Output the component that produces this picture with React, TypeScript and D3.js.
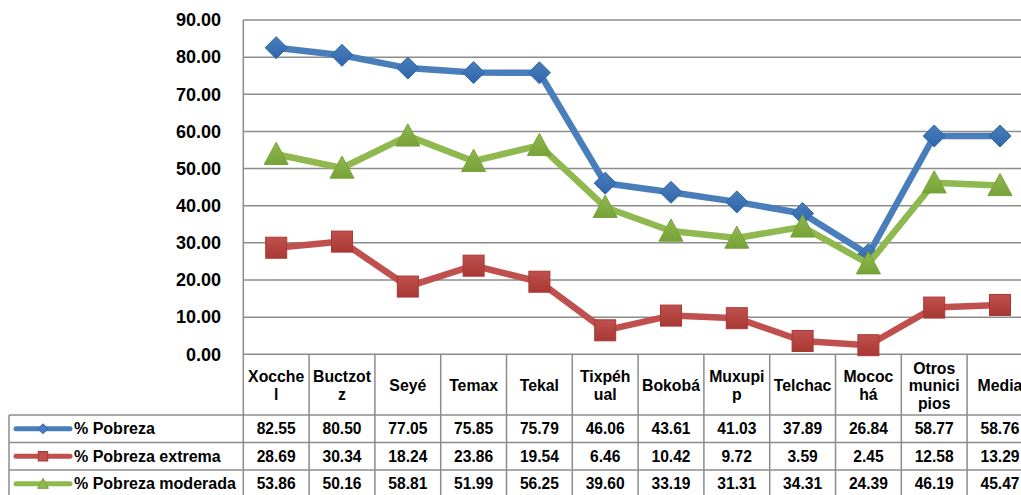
import React from "react";
import * as d3 from "d3";

const categories = ["Xocchel", "Buctzotz", "Seyé", "Temax", "Tekal", "Tixpéhual", "Bokobá", "Muxupip", "Telchac", "Mocochá", "Otros municipios", "Media"];
const headerLines = [["Xocche", "l"], ["Buctzot", "z"], ["Seyé"], ["Temax"], ["Tekal"], ["Tixpéh", "ual"], ["Bokobá"], ["Muxupi", "p"], ["Telchac"], ["Mococ", "há"], ["Otros", "munici", "pios"], ["Media"]];
const pobreza = [82.55, 80.5, 77.05, 75.85, 75.79, 46.06, 43.61, 41.03, 37.89, 26.84, 58.77, 58.76];
const extrema = [28.69, 30.34, 18.24, 23.86, 19.54, 6.46, 10.42, 9.72, 3.59, 2.45, 12.58, 13.29];
const moderada = [53.86, 50.16, 58.81, 51.99, 56.25, 39.6, 33.19, 31.31, 34.31, 24.39, 46.19, 45.47];
const yTicks = [0, 10, 20, 30, 40, 50, 60, 70, 80, 90];

const series = [
  { name: "% Pobreza", values: pobreza, color: "#4a7ebb", dark: "#2f65ab", marker: "diamond" },
  { name: "% Pobreza extrema", values: extrema, color: "#c0504d", dark: "#a83834", marker: "square" },
  { name: "% Pobreza moderada", values: moderada, color: "#8fb84e", dark: "#77a237", marker: "triangle" },
];

const W = 1021, H = 495;
const left = 243.3, step = 65.8;
const top = 20, bottom = 354.3;
const rowTop = 415, rowH = 27.5;
const font = "'Liberation Sans', Arial, sans-serif";

function Marker({ type, x, y, color, dark, s = 1 }: any) {
  if (type === "diamond") {
    const r = 11 * s;
    return <path d={`M${x},${y - r}L${x + r},${y}L${x},${y + r}L${x - r},${y}Z`} fill={color} stroke={dark} strokeWidth={1} />;
  }
  if (type === "square") {
    const r = 10.5 * s;
    return <rect x={x - r} y={y - r} width={2 * r} height={2 * r} fill={color} stroke={dark} strokeWidth={1} />;
  }
  const r = 12 * s;
  return <path d={`M${x},${y - r}L${x + r},${y + r * 0.85}L${x - r},${y + r * 0.85}Z`} fill={color} stroke={dark} strokeWidth={1} />;
}

export default function App() {
  const x = d3.scaleBand<string>().domain(categories).range([left, left + step * categories.length]);
  const y = d3.scaleLinear().domain([0, 90]).range([bottom, top]);
  const cx = (c: string) => (x(c) as number) + x.bandwidth() / 2;
  const line = d3.line<number>().x((_, i) => cx(categories[i])).y((v) => y(v));
  const colEdges = categories.map((c) => x(c) as number);

  return (
    <svg width={W} height={H} style={{ position: "absolute", left: 0, top: 0, background: "#fff" }} fontFamily={font}>
      <defs>
        {series.map((s, i) => (
          <linearGradient key={i} id={`g${i}`} x1="0" y1="0" x2="0" y2="1">
            <stop offset="0" stopColor={s.color} />
            <stop offset="1" stopColor={s.dark} />
          </linearGradient>
        ))}
      </defs>
      {yTicks.map((t) => (
        <line key={t} x1={left} x2={W} y1={y(t)} y2={y(t)} stroke="#8c8c8c" strokeWidth={1.5} />
      ))}
      <line x1={left} x2={left} y1={top} y2={bottom} stroke="#8c8c8c" strokeWidth={1.5} />
      {yTicks.map((t) => (
        <text key={t} x={221} y={y(t)} dy="0.35em" textAnchor="end" fontSize={18} fontWeight="bold">{t.toFixed(2)}</text>
      ))}
      {colEdges.map((e, i) => (
        <line key={i} x1={e} x2={e} y1={bottom} y2={H} stroke="#8c8c8c" strokeWidth={1.5} />
      ))}
      <line x1={9} x2={9} y1={rowTop} y2={H} stroke="#8c8c8c" strokeWidth={1.5} />
      {[0, 1, 2, 3].map((r) => (
        <line key={r} x1={9} x2={W} y1={rowTop + r * rowH} y2={rowTop + r * rowH} stroke="#8c8c8c" strokeWidth={1.5} />
      ))}
      {categories.map((c, i) => {
        const lines = headerLines[i];
        const y0 = 385.5 - ((lines.length - 1) * 17.5) / 2;
        return (
          <text key={c} x={cx(c)} textAnchor="middle" fontSize={15.8} fontWeight="bold">
            {lines.map((l, j) => (
              <tspan key={j} x={cx(c)} y={y0 + j * 17.5} dy="0.35em">{l}</tspan>
            ))}
          </text>
        );
      })}
      {series.map((s, r) => {
        const ry = rowTop + r * rowH + rowH / 2;
        return (
          <g key={s.name}>
            <line x1={16} x2={70} y1={ry} y2={ry} stroke={s.color} strokeWidth={5} strokeLinecap="round" />
            <Marker type={s.marker} x={43} y={ry} color={s.color} dark={s.dark} s={0.45} />
            <text x={74} y={ry} dy="0.35em" fontSize={16} fontWeight="bold">{s.name}</text>
            {s.values.map((v, i) => (
              <text key={i} x={cx(categories[i])} y={ry} dy="0.35em" textAnchor="middle" fontSize={15.6} fontWeight="bold">{v.toFixed(2)}</text>
            ))}
          </g>
        );
      })}
      {series.map((s, i) => (
        <g key={s.name}>
          <path d={line(s.values) as string} fill="none" stroke={s.color} strokeWidth={6.5} strokeLinejoin="round" />
          {s.values.map((v, j) => (
            <Marker key={j} type={s.marker} x={cx(categories[j])} y={y(v)} color={`url(#g${i})`} dark={s.dark} />
          ))}
        </g>
      ))}
    </svg>
  );
}
